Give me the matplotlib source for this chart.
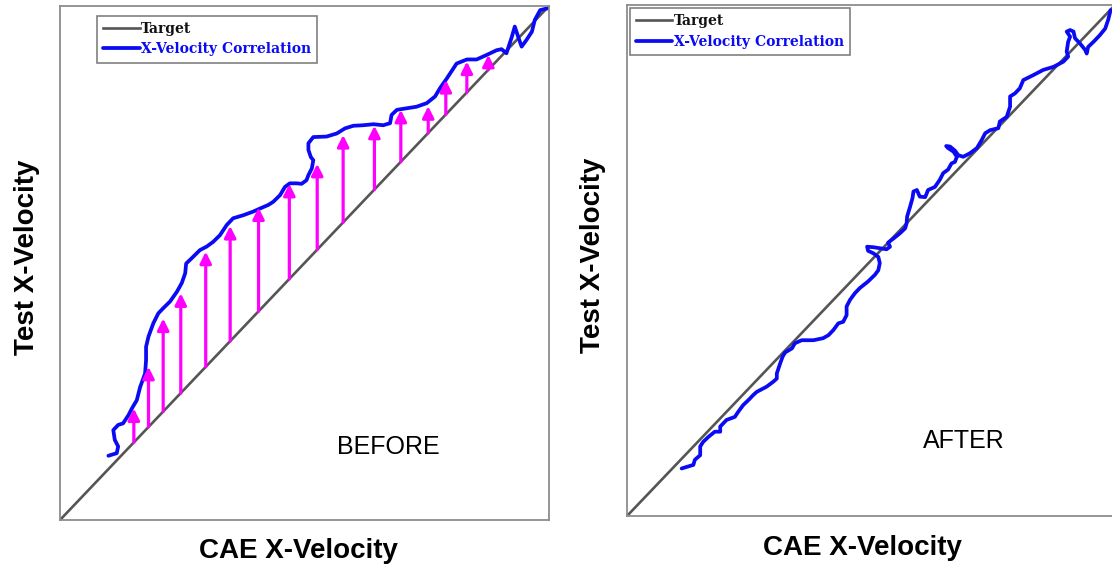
import matplotlib.pyplot as plt

# values, as fractions of each axis range (0..1)
before_x = [0.099, 0.116, 0.119, 0.112, 0.109, 0.119, 0.129, 0.140, 0.147, 0.157,
            0.164, 0.174, 0.176, 0.176, 0.181, 0.191, 0.201, 0.211, 0.225, 0.239,
            0.249, 0.256, 0.258, 0.269, 0.286, 0.300, 0.313, 0.327, 0.341, 0.354,
            0.375, 0.395, 0.409, 0.426, 0.436, 0.450, 0.460, 0.470, 0.484, 0.494,
            0.504, 0.508, 0.515, 0.518, 0.513, 0.508, 0.508, 0.518, 0.545, 0.566,
            0.583, 0.600, 0.620, 0.641, 0.661, 0.675, 0.678, 0.689, 0.709, 0.729,
            0.750, 0.767, 0.777, 0.791, 0.811, 0.832, 0.852, 0.873, 0.893, 0.903,
            0.913, 0.924, 0.930, 0.937, 0.944, 0.954, 0.965, 0.971, 0.982, 0.999]
before_y = [0.125, 0.130, 0.143, 0.156, 0.175, 0.185, 0.188, 0.204, 0.217, 0.233,
            0.259, 0.285, 0.311, 0.337, 0.357, 0.383, 0.402, 0.412, 0.425, 0.444,
            0.461, 0.480, 0.499, 0.509, 0.525, 0.532, 0.541, 0.554, 0.574, 0.587,
            0.593, 0.600, 0.606, 0.613, 0.619, 0.632, 0.648, 0.655, 0.655, 0.654,
            0.661, 0.671, 0.684, 0.700, 0.706, 0.720, 0.733, 0.745, 0.746, 0.752,
            0.762, 0.767, 0.768, 0.770, 0.768, 0.772, 0.788, 0.798, 0.801, 0.804,
            0.811, 0.824, 0.840, 0.859, 0.888, 0.896, 0.896, 0.905, 0.914, 0.916,
            0.908, 0.940, 0.960, 0.940, 0.921, 0.934, 0.950, 0.973, 0.992, 0.996]

# magenta arrows: x position and tip height (they start on the target line)
arrow_x = [0.151, 0.181, 0.211, 0.247, 0.298, 0.348, 0.406, 0.469,
           0.526, 0.579, 0.643, 0.697, 0.753, 0.789, 0.832, 0.876]
arrow_top = [0.217, 0.298, 0.392, 0.441, 0.522, 0.572, 0.608, 0.654,
             0.693, 0.749, 0.767, 0.798, 0.805, 0.856, 0.892, 0.905]

after_x = [0.112, 0.122, 0.136, 0.139, 0.150, 0.150, 0.156, 0.167, 0.180, 0.191,
           0.191, 0.204, 0.221, 0.228, 0.238, 0.249, 0.259, 0.266, 0.286, 0.300,
           0.307, 0.307, 0.314, 0.319, 0.324, 0.338, 0.344, 0.358, 0.382, 0.402,
           0.413, 0.423, 0.433, 0.443, 0.450, 0.450, 0.457, 0.467, 0.477, 0.494,
           0.508, 0.515, 0.518, 0.515, 0.505, 0.494, 0.492, 0.505, 0.518, 0.532,
           0.539, 0.535, 0.546, 0.559, 0.570, 0.573, 0.574, 0.580, 0.585, 0.587,
           0.594, 0.600, 0.611, 0.617, 0.631, 0.641, 0.648, 0.658, 0.665, 0.672,
           0.676, 0.669, 0.658, 0.654, 0.662, 0.672, 0.679, 0.689, 0.703, 0.717,
           0.727, 0.734, 0.744, 0.761, 0.764, 0.778, 0.785, 0.785, 0.795, 0.805,
           0.812, 0.833, 0.853, 0.874, 0.894, 0.904, 0.901, 0.904, 0.908, 0.901,
           0.908, 0.915, 0.918, 0.928, 0.939, 0.942, 0.945, 0.956, 0.969, 0.980,
           0.986, 0.991]
after_y = [0.093, 0.096, 0.100, 0.110, 0.119, 0.136, 0.145, 0.155, 0.165, 0.165,
           0.175, 0.188, 0.194, 0.204, 0.217, 0.227, 0.237, 0.243, 0.253, 0.263,
           0.269, 0.279, 0.299, 0.312, 0.320, 0.328, 0.338, 0.344, 0.344, 0.348,
           0.354, 0.364, 0.377, 0.380, 0.393, 0.410, 0.423, 0.436, 0.446, 0.459,
           0.472, 0.481, 0.495, 0.507, 0.514, 0.519, 0.527, 0.526, 0.524, 0.522,
           0.527, 0.535, 0.543, 0.553, 0.563, 0.573, 0.586, 0.605, 0.622, 0.635,
           0.638, 0.625, 0.624, 0.638, 0.644, 0.658, 0.671, 0.678, 0.690, 0.693,
           0.703, 0.713, 0.720, 0.724, 0.723, 0.715, 0.706, 0.703, 0.710, 0.720,
           0.736, 0.749, 0.755, 0.759, 0.772, 0.781, 0.801, 0.821, 0.827, 0.837,
           0.853, 0.863, 0.873, 0.879, 0.889, 0.899, 0.909, 0.928, 0.938, 0.948,
           0.951, 0.948, 0.935, 0.925, 0.912, 0.905, 0.918, 0.928, 0.941, 0.954,
           0.971, 0.990]

target = [0, 1]


def draw_panel(ax, xs, ys, tag, tag_pos, legend_pos):
    ax.plot(target, target, color='#555555', lw=1.9, label='Target')
    ax.plot(xs, ys, color='#0a0af5', lw=2.7, label='X-Velocity Correlation',
            solid_joinstyle='round', solid_capstyle='round')
    ax.set_xlim(0, 1)
    ax.set_ylim(0, 1)
    ax.set_xticks([])
    ax.set_yticks([])
    for s in ax.spines.values():
        s.set_color('#8c8c8c')
        s.set_linewidth(1.3)

    leg = ax.legend(loc='upper left', bbox_to_anchor=legend_pos, borderaxespad=0,
                    prop={'family': 'DejaVu Serif', 'weight': 'bold', 'size': 10},
                    fancybox=False, framealpha=1, handlelength=2.6,
                    handletextpad=0.1, borderpad=0.45, labelspacing=0.45)
    leg.get_frame().set_edgecolor('#808080')
    leg.get_frame().set_linewidth(1.2)
    leg.get_texts()[0].set_color('#111111')
    leg.get_texts()[1].set_color('#0a0af5')

    ax.text(tag_pos[0], tag_pos[1], tag, transform=ax.transAxes, ha='center',
            va='center', fontsize=18, family='Liberation Sans')
    ax.set_xlabel('CAE X-Velocity', fontsize=20, fontweight='bold', family='Liberation Sans')
    ax.set_ylabel('Test X-Velocity', fontsize=20, fontweight='bold', family='Liberation Sans')


fig = plt.figure(figsize=(11.12, 5.64), dpi=100)
ax1 = fig.add_axes([60 / 1112, 44 / 564, 489 / 1112, 514 / 564])
ax2 = fig.add_axes([627 / 1112, 48 / 564, 488 / 1112, 511 / 564])

draw_panel(ax1, before_x, before_y, 'BEFORE', (0.671, 0.142), (0.076, 0.981))
for x, top in zip(arrow_x, arrow_top):
    ax1.annotate('', xy=(x, top), xytext=(x, x),
                 arrowprops=dict(arrowstyle='-|>', color='#ff00ff', lw=2.3,
                                 mutation_scale=17, shrinkA=0, shrinkB=0))

draw_panel(ax2, after_x, after_y, 'AFTER', (0.691, 0.147), (0.006, 0.994))

ax1.xaxis.set_label_coords(0.487, -0.035)
ax2.xaxis.set_label_coords(0.482, -0.037)
ax1.yaxis.set_label_coords(-0.041, 0.512)
ax2.yaxis.set_label_coords(-0.043, 0.511)

plt.savefig('out.png', dpi=100)
